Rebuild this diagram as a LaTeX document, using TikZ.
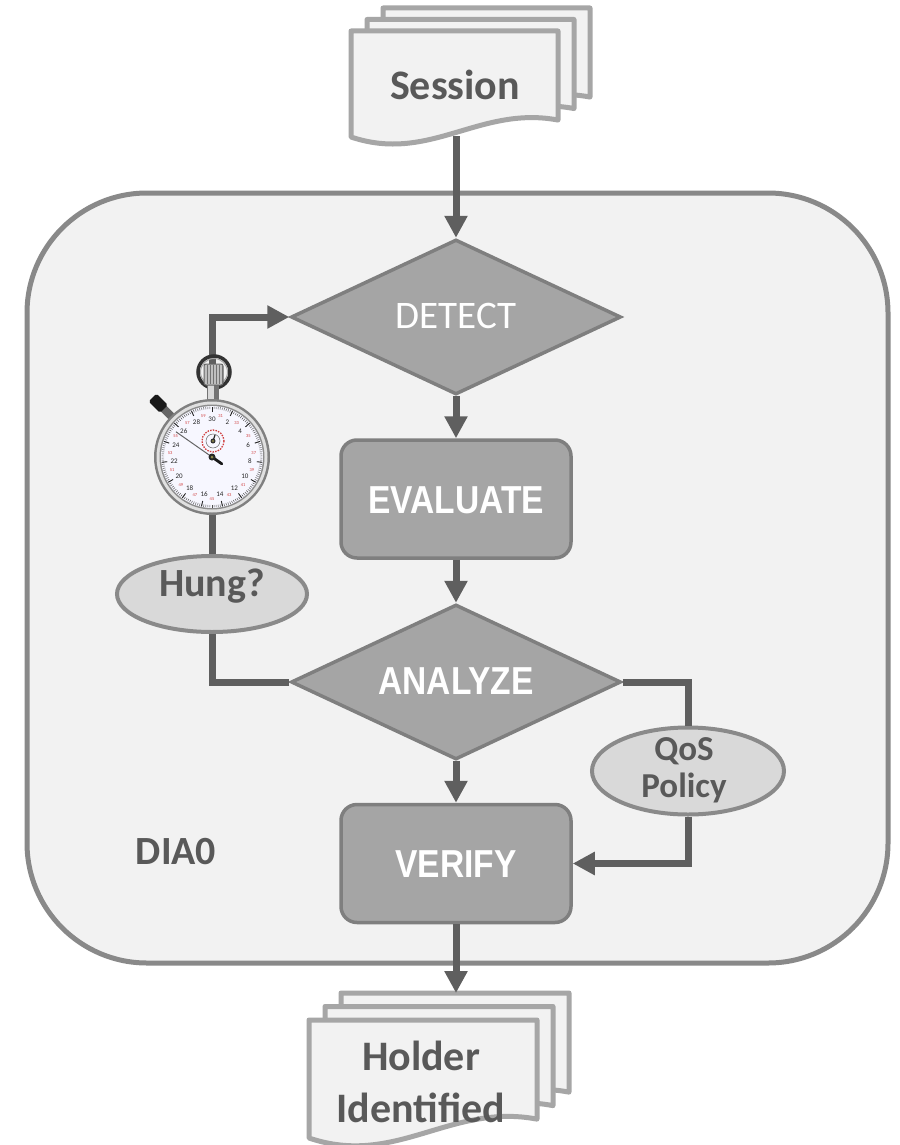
\documentclass[tikz,border=0pt]{standalone}
\usepackage{fontspec}
\setmainfont{Carlito}
\newfontfamily\condfont[FakeStretch=0.86]{Liberation Sans}
\usetikzlibrary{shapes.geometric,arrows.meta}

\definecolor{linegray}{HTML}{5F5F5F}
\definecolor{textgray}{HTML}{595959}
\definecolor{shapefill}{HTML}{A5A5A5}
\definecolor{shapeborder}{HTML}{7F7F7F}
\definecolor{ovalfill}{HTML}{D9D9D9}
\definecolor{ovalborder}{HTML}{8A8A8A}
\definecolor{panelfill}{HTML}{F2F2F2}
\definecolor{panelborder}{HTML}{898989}
\definecolor{sheetborder}{HTML}{A6A6A6}
\definecolor{dialred}{HTML}{D04040}

% document sheet with a wavy lower edge: left, top, width, height
\newcommand\docsheet[4]{%
  \filldraw[sheet] (#1,#2) -- ({#1+#3},#2) -- ({#1+#3},{#2+0.84*#4})
    .. controls ({#1+0.62*#3},{#2+0.70*#4}) and ({#1+0.38*#3},{#2+1.25*#4}) .. (#1,{#2+#4}) -- cycle;}

\begin{document}
\begin{tikzpicture}[x=1pt,y=-1pt,
  sheet/.style={fill=panelfill,draw=sheetborder,line width=5pt,line join=round},
  conn/.style={draw=linegray,line width=7pt},
  arr/.style={conn,-{Triangle[length=22pt,width=22pt]}},
  decision/.style={diamond,fill=shapefill,draw=shapeborder,line width=3.5pt,
    minimum width=330pt,minimum height=155pt,inner sep=0pt},
  process/.style={rectangle,rounded corners=16pt,fill=shapefill,draw=shapeborder,
    line width=3.5pt,minimum width=230pt,minimum height=118pt,inner sep=0pt},
  oval/.style={ellipse,fill=ovalfill,draw=ovalborder,line width=4pt,inner sep=0pt},
  darktext/.style={text=textgray,font=\fontsize{42}{50}\selectfont\bfseries,anchor=base},
  whitetext/.style={text=white,font=\condfont\fontsize{39}{44}\selectfont\bfseries,anchor=base},
]
\useasboundingbox[fill=white] (0,0) rectangle (899,1145);

% panel
\filldraw[fill=panelfill,draw=panelborder,line width=5pt,rounded corners=120pt]
  (27,193) rectangle (888,963);

% input and output document stacks
\docsheet{383}{8}{207}{106}
\docsheet{367}{19.5}{207}{106}
\docsheet{351}{31}{207}{106}
\docsheet{341}{993}{228}{118}
\docsheet{325}{1006.5}{228}{118}
\docsheet{309}{1020}{228}{118}

\node[darktext] (session) at (455,100) {Session};
\node[darktext] (holder) at (421,1070) {Holder};
\node[darktext] (identified) at (421,1122) {Identified};
\coordinate (sessionbot) at (456,136);
\coordinate (outtop) at (456,993);

% flow shapes
\node[decision] (detect) at (456,317) {};
\node[process] (evaluate) at (456,499) {};
\node[decision] (analyze) at (456,682) {};
\node[process] (verify) at (456,863.5) {};
\node[oval,minimum width=190pt,minimum height=76pt] (hung) at (212,594) {};
\node[oval,minimum width=192pt,minimum height=87pt] (qos) at (688,771) {};

\node[text=white,font=\fontsize{39}{44}\selectfont,anchor=base] (detectlbl) at (456,328) {DETECT};
\node[whitetext] (evaluatelbl) at (456,513) {EVALUATE};
\node[whitetext] (analyzelbl) at (456,694) {ANALYZE};
\node[whitetext] (verifylbl) at (456,877) {VERIFY};
\node[darktext,font=\fontsize{40}{48}\selectfont\bfseries] (hunglbl) at (212,596) {Hung?};
\node[darktext,font=\fontsize{35}{37}\selectfont\bfseries] (qoslbl1) at (684,760) {QoS};
\node[darktext,font=\fontsize{35}{37}\selectfont\bfseries] (qoslbl2) at (684,797) {Policy};
\node[darktext,font=\fontsize{40}{48}\selectfont\bfseries] (dialbl) at (176,864) {DIA0};

% connectors
\draw[arr] (sessionbot) -- (detect.north);
\draw[arr] (detect.south) -- (evaluate.north);
\draw[arr] (evaluate.south) -- (analyze.north);
\draw[arr] (analyze.south) -- (verify.north);
\draw[arr] (verify.south) -- (outtop);
\draw[conn] (analyze.west) -| (hung.south);
\draw[arr] (hung.north) |- (detect.west);
\draw[conn] (analyze.east) -| (qos.north);
\draw[arr] (qos.south) |- (verify.east);

% stopwatch on the timeout path
\begin{scope}[shift={(212,457)}]
  % bow ring and crown
  \draw[line width=3.5pt,black!80] (2,-85) circle (16);
  \draw[line width=1pt,black!35] (2,-85) circle (13.5);
  \fill[black!55] (-5,-72) rectangle (7,-52);
  \fill[black!15] (-4,-72) rectangle (2,-52);
  \filldraw[fill=black!25,draw=black!60,line width=1pt,rounded corners=2pt] (-8,-93) rectangle (11,-72);
  \foreach \s in {-5,-2,1,4,7,10}
    \draw[black!55,line width=0.8pt] (\s,-92) -- (\s,-73);
  % side pusher, upper left
  \begin{scope}[rotate=45]
    \fill[black!60] (-4,-70) rectangle (4,-56);
    \fill[black!90,rounded corners=1.5pt] (-5.5,-84) rectangle (5.5,-68);
  \end{scope}
  % case and dial
  \fill[black!50] (0,0) circle (58);
  \fill[black!12] (0,0) circle (55.5);
  \fill[black!45] (0,0) circle (52.5);
  \fill[blue!3] (0,0) circle (51);
  \foreach \k in {0,...,149} {
    \pgfmathsetmacro\ang{\k*2.4-90}
    \draw[black!70,line width=0.45pt] (\ang:48) -- (\ang:50.5);
  }
  \foreach \k in {0,...,14} {
    \pgfmathsetmacro\ang{\k*24-90}
    \pgfmathtruncatemacro\lbl{\k==0 ? 30 : 2*\k}
    \draw[black!85,line width=0.9pt] (\ang:45) -- (\ang:50.5);
    \node[inner sep=0pt,font=\fontsize{7}{7}\selectfont,text=black!85] (num\k) at (\ang:38) {\lbl};
    \pgfmathsetmacro\angb{\k*24-78}
    \pgfmathtruncatemacro\lblb{31+2*\k}
    \node[inner sep=0pt,font=\fontsize{4.5}{5}\selectfont,text=dialred] (red\k) at (\angb:42) {\lblb};
  }
  % minute register
  \draw[dialred,line width=1.3pt,dash pattern=on 1.5pt off 1.2pt] (1,-16) circle (11);
  \draw[black!60,line width=0.5pt] (1,-16) circle (7);
  \draw[black!85,line width=1.2pt] (1,-16) -- (3,-22);
  \fill[black!80] (1,-16) circle (2.5);
  \fill[yellow!50!black] (1,-16) circle (1.1);
  % hands
  \draw[black!60,line width=1pt] (0,0) -- (215:44);
  \draw[black!90,line width=2.8pt,line cap=round] (0,0) -- (35:12);
  \fill[black!85] (0,0) circle (3.5);
  \fill[yellow!50!black] (0,0) circle (1.5);
\end{scope}
\end{tikzpicture}
\end{document}
